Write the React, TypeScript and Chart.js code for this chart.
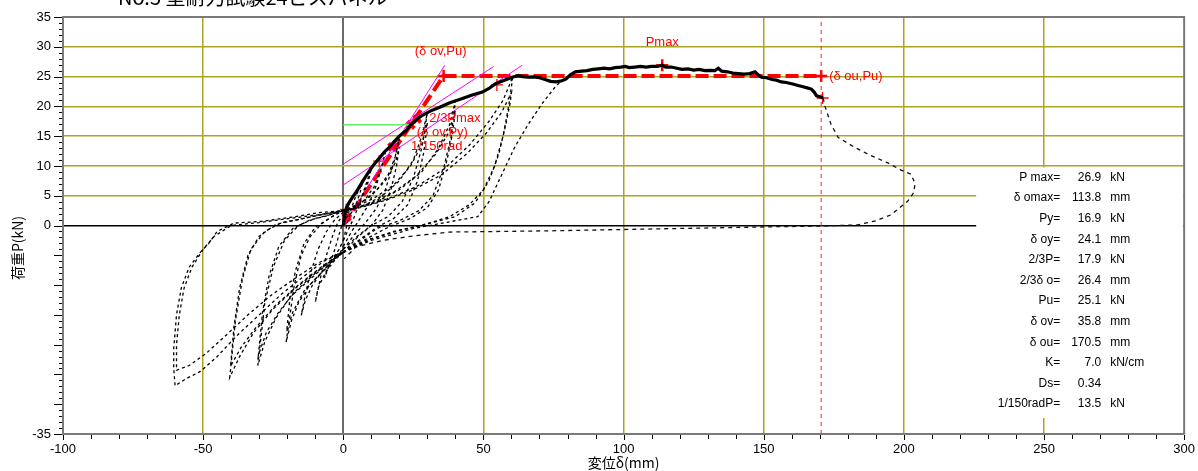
import React, { useEffect, useRef } from "react";
import { Chart, registerables } from "chart.js";
Chart.register(...registerables);

type Pt = [number, number];

// ---- axis tick labels ----
const xTickLabels = [-100, -50, 0, 50, 100, 150, 200, 250, 300];
const yTickLabels = [35, 30, 25, 20, 15, 10, 5, 0, -35];
const xGridValues = [-50, 50, 100, 150, 200, 250];
const yGridValues = [5, 10, 15, 20, 25, 30];

// ---- hysteresis cycles (dashed) ----
const cycle7: Pt[] = [
  [0, -2.5], [1.5, 0.5], [3, 3], [4.5, 5], [6.7, 7.0],
  [6, 5.5], [4.5, 3.5], [3, 2.2], [1.5, 1.5], [0, 0.8],
  [-1.5, -1.5], [-3, -4], [-4.5, -6], [-6.7, -8.8],
  [-6, -7.5], [-4.5, -6], [-3, -5], [-1.5, -4], [0, -2.5],
];
const cycle10: Pt[] = [
  [0, -2.5], [2, -0.5], [4, 1.5], [6, 4], [8, 6.8], [10, 9.5],
  [9, 7.5], [7, 5], [5, 3.5], [3, 2.6], [1, 2], [0, 1.8],
  [-2, 0.5], [-4, -2], [-6, -5], [-8, -8.5], [-10, -12.9],
  [-9, -10.5], [-7, -8.5], [-5, -7], [-3, -5.8], [-1, -4.5], [0, -3.5],
];
const cycle15: Pt[] = [
  [0, -3.5], [3, -1], [6, 1.2], [9, 3.5], [12, 7], [15, 12.2],
  [13.5, 9.5], [11, 6.5], [8, 4.5], [5, 3.2], [2, 2.5], [0, 2.2],
  [-3, 1], [-6, -1], [-9, -4], [-12, -8.5], [-13.5, -11.5], [-15, -15.1],
  [-13.5, -12.5], [-11, -10], [-8, -8], [-5, -6.5], [-2, -5], [0, -4],
];
const cycle20: Pt[] = [
  [0, -4], [4, -1.5], [8, 0.5], [12, 3], [15, 6], [18, 10.5], [20, 14.6],
  [18.5, 11.5], [16, 8.5], [12, 6], [8, 4.3], [4, 3.2], [0, 2.5],
  [-4, 1.5], [-8, 0.2], [-12, -2], [-15, -5], [-17.5, -10], [-20.4, -19.6],
  [-18.5, -16], [-16, -13], [-12, -10], [-8, -8], [-4, -6], [0, -4.5],
];
const cycle20b: Pt[] = [
  [0, -4], [5, -1.8], [10, 0], [14, 2.5], [17, 6], [19, 10], [20, 13.2],
  [18.5, 10.5], [15, 7.5], [10, 5], [5, 3.5], [0, 2.6],
  [-5, 1.2], [-10, -0.3], [-14, -3], [-17, -7.5], [-19, -12], [-20.2, -17.8],
  [-18, -14.5], [-14, -11], [-9, -8.5], [-4, -6.2], [0, -4.5],
];
const cycle30: Pt[] = [
  [0, -4.5], [5, -2], [10, 0], [16, 1.5], [21, 4], [25, 8], [28, 13], [30, 18.9],
  [28, 15], [25, 11], [20, 7.5], [14, 5], [8, 3.5], [3, 2.8], [0, 2.5],
  [-5, 1.8], [-10, 1.2], [-16, 0], [-21, -2.5], [-25, -7], [-28, -13], [-30.5, -23.5],
  [-28, -19.5], [-24, -15.5], [-19, -12], [-13, -9.5], [-7, -7], [-2, -5], [0, -4.5],
];
const cycle30b: Pt[] = [
  [0, -4.5], [6, -2.3], [12, -0.3], [18, 1.2], [23, 3.5], [26.5, 7.5], [28.8, 12.5], [30, 17.3],
  [28, 13.5], [24, 10], [18, 6.8], [11, 4.6], [5, 3.3], [0, 2.6],
  [-6, 1.6], [-12, 0.9], [-18, -0.5], [-23, -3.5], [-26.5, -8.5], [-28.8, -14.5], [-30.3, -21.8],
  [-27.5, -18], [-23, -14.5], [-17, -11], [-10, -8], [-4, -5.8], [0, -4.5],
];
const cycle40: Pt[] = [
  [0, -4.5], [6, -2.5], [12, -0.5], [20, 0.8], [27, 2.5], [32, 5], [36, 10], [38.5, 15], [40, 20.9],
  [38, 17], [34, 13], [28, 9], [20, 6], [12, 4], [5, 3], [0, 2.5],
  [-6, 2], [-14, 1.2], [-22, 0.5], [-28, -1], [-33, -4], [-36, -9], [-38.5, -16], [-40.5, -25.5],
  [-37, -22], [-32, -18], [-25, -14], [-17, -10.5], [-9, -7.5], [-3, -5.5], [0, -4.5],
];
const cycle40b: Pt[] = [
  [0, -4.5], [8, -2.3], [16, -0.3], [24, 1.2], [30, 3], [34, 6], [37, 11], [39, 15.5], [40, 19.3],
  [37.5, 15.5], [33, 12], [26, 8.3], [18, 5.6], [10, 3.8], [3, 2.8], [0, 2.5],
  [-8, 1.8], [-16, 1], [-24, 0.2], [-30, -1.8], [-34, -5], [-37, -10.5], [-39, -17], [-40.2, -23.6],
  [-36.5, -20.5], [-31, -17], [-24, -13.3], [-16, -10], [-8, -7], [-2, -5], [0, -4.5],
];
const cycle60: Pt[] = [
  [0, -4.5], [8, -2.5], [18, -1], [28, 0], [38, 1.5], [45, 3.5], [50, 6], [54, 10], [57, 15], [59, 20], [60.5, 25],
  [57, 21], [52, 17.5], [45, 13.5], [36, 9.5], [26, 6.5], [16, 4.5], [7, 3.2], [0, 2.5],
  [-8, 2.2], [-17, 1.5], [-29, 0.7], [-39, 0.4], [-45, -1], [-48, -3], [-51, -4.5], [-55, -7],
  [-57.8, -10.5], [-59.5, -15], [-60.5, -20.7], [-60.5, -24], [-60, -26.9],
  [-56, -25.7], [-51, -24.5], [-45, -22], [-38, -18.5], [-30, -15], [-22, -11.5], [-14, -8.5], [-7, -6], [0, -4.5],
];
const cycle60b: Pt[] = [
  [0, -4.5], [10, -2.3], [20, -0.8], [30, 0.3], [40, 1.5], [47, 3.8], [52, 7.5], [55.5, 12], [58, 17], [59.5, 20.5], [60, 22.3],
  [56.5, 19], [51, 15.5], [44, 12], [35, 8.5], [25, 6], [15, 4.2], [6, 3], [0, 2.4],
  [-9, 1.8], [-19, 1.2], [-30, 0.5], [-40, 0], [-46, -1.8], [-50, -4], [-54, -7], [-56.8, -10.5],
  [-58.5, -15], [-59.5, -20], [-59.5, -24.3],
  [-55, -23.5], [-49, -21.5], [-42, -18.5], [-34, -15], [-26, -11.8], [-17, -8.8], [-9, -6.3], [-2, -4.8], [0, -4.5],
];
const finalPush: Pt[] = [
  [0, -4.5], [10, -2.5], [25, -0.5], [40, 0.8], [48, 1.5], [52, 4], [56, 8], [61, 13],
  [66, 17], [71, 20.5], [76, 23.5], [80, 25],
];
const postFailure: Pt[] = [
  [171.2, 21.4], [171.8, 20.1], [174, 17], [176.5, 14.8], [182.5, 13.1], [188, 11.8], [194.3, 10.5],
  [199, 9.3], [202.6, 8.6], [204, 7], [203.5, 5.5], [201.4, 4.1], [198, 2.8], [195.5, 1.8], [190, 0.8],
  [183.6, 0.1], [170, -0.1], [155, -0.2], [120, -0.5], [73, -0.9], [38, -1.1], [26, -1.7], [14, -2.5],
  [4.5, -3.6], [0.3, -5.6],
];

// ---- envelope (solid) ----
const envelope: Pt[] = [
  [0, 0], [0.5, 1.6], [1, 2.8], [2, 3.8], [3.5, 4.9], [5, 5.9], [7, 7.5], [9.2, 9.1], [11, 10.3],
  [13, 11.4], [14.8, 12.4], [16.4, 13.1], [18, 14.0], [20, 15.0], [22.3, 15.9], [24.1, 16.9],
  [26.4, 17.9], [28.2, 18.5], [31, 19.2], [34.2, 19.8], [38, 20.6], [42.5, 21.3], [46, 21.9],
  [49.6, 22.4], [52, 23.0], [54.3, 23.8], [57, 24.3], [60.3, 24.9], [62.5, 25.2], [64, 25.0],
  [66, 24.9], [68, 24.95], [70, 24.8], [72, 24.5], [74, 24.2], [76, 24.1], [78, 24.3], [79.5, 24.6],
  [81, 25.3], [82.8, 25.8], [85, 25.9], [87, 26.0], [89, 26.2], [91, 26.3], [93, 26.4], [95, 26.3],
  [97, 26.5], [99, 26.6], [100.6, 26.7], [102, 26.5], [104, 26.6], [106, 26.7], [108, 26.6],
  [110, 26.7], [112, 26.7], [113.8, 26.9], [115, 26.6], [117, 26.6], [119, 26.4], [120.8, 26.2],
  [123, 26.3], [125, 26.1], [127, 26.2], [129, 26.0], [131, 26.05], [132.6, 26.0], [133.8, 26.4],
  [135, 25.9], [137, 25.8], [139, 25.6], [140.9, 25.5], [143, 25.4], [145, 25.5], [146.9, 25.8],
  [148, 25.3], [149.2, 24.9], [151, 24.8], [153, 24.5], [154.5, 24.4], [156.3, 24.1], [158, 24.0],
  [160, 23.8], [162.3, 23.5], [164, 23.3], [165.5, 23.1], [167, 22.9], [168, 22.4], [168.8, 21.8],
  [170, 21.6], [171.2, 21.4],
];

// ---- evaluation lines ----
const bilinear: Pt[] = [[0, 0], [35.8, 25.1], [170.5, 25.1]];
const tangent1: Pt[] = [[0, 10.3], [53.7, 26.7]];
const tangent2: Pt[] = [[0, 6.8], [63.8, 26.9]];
const tangent3: Pt[] = [[0, 0], [36.2, 26.9]];
const pyLine: Pt[] = [[0, 16.9], [24.5, 16.9]];
const ouLine: Pt[] = [[170.5, -35], [170.5, 35]];
const thinMarks: Pt[] = [[1, 2.7], [12.8, 10.8], [54.8, 23.6], [171, 21.4]];
const boldMarks: Pt[] = [[35.8, 25.1], [113.8, 26.9], [170.5, 25.1]];
const heavyMarks: Pt[] = [[1.3, 1.4], [17.4, 13.2], [24.1, 16.9], [26.4, 17.9]];

// ---- annotation texts ----
const noteTexts = ["(δ ov,Pu)", "Pmax", "(δ ou,Pu)", "2/3Pmax", "(δ ov,Py)", "1/150rad"];
const noteAnchors: Pt[] = [[35.8, 25.1], [113.8, 26.9], [170.5, 25.1], [26.4, 17.9], [24.1, 16.9], [17.4, 13.2]];

// ---- result table ----
const statLabels = ["P max=", "δ omax=", "Py=", "δ oy=", "2/3P=", "2/3δ o=", "Pu=", "δ ov=", "δ ou=", "K=", "Ds=", "1/150radP="];
const statValues = ["26.9", "113.8", "16.9", "24.1", "17.9", "26.4", "25.1", "35.8", "170.5", "7.0", "0.34", "13.5"];
const statUnits = ["kN", "mm", "kN", "mm", "kN", "mm", "kN", "mm", "mm", "kN/cm", "", "kN"];

const titleText = "No.5 壁耐力試験24ビスパネル";
const xTitle = "変位δ(mm)";
const yTitle = "荷重P(kN)";

const OLIVE = "#aba523";
const SANS = "'Liberation Sans', Arial, sans-serif";
const CJK = "'Noto Sans CJK JP', 'Liberation Sans', sans-serif";

const toXY = (pts: Pt[]) => pts.map(([x, y]) => ({ x, y }));

export default function App() {
  const ref = useRef<HTMLCanvasElement>(null);

  useEffect(() => {
    const canvas = ref.current;
    if (!canvas) return;

    const line = (pts: Pt[], extra: any) => ({
      data: toXY(pts),
      showLine: true,
      pointRadius: 0,
      fill: false,
      tension: 0,
      borderColor: "#000",
      borderWidth: 1,
      ...extra,
    });
    const loopStyle = { borderColor: "#000", borderWidth: 1.3, borderDash: [3, 3] };
    const loops = [cycle7, cycle10, cycle15, cycle20, cycle20b, cycle30, cycle30b, cycle40, cycle40b, cycle60, cycle60b];

    const decor = {
      id: "decor",
      beforeDatasetsDraw(chart: any) {
        const { ctx, chartArea, scales } = chart;
        const ys = scales.y;
        const left = chartArea.right - 208;
        const top = ys.getPixelForValue(10) + 1.5;
        const bottom = chartArea.bottom - 16;
        ctx.save();
        ctx.fillStyle = "#fff";
        ctx.fillRect(left, top, chartArea.right - left - 1, bottom - top);
        ctx.fillStyle = "#000";
        ctx.font = `12px ${SANS}`;
        ctx.textBaseline = "middle";
        statLabels.forEach((lab, i) => {
          const yy = top + 10 + i * 20.6;
          ctx.textAlign = "right";
          ctx.fillText(lab, left + 84, yy);
          ctx.fillText(statValues[i], left + 125, yy);
          ctx.textAlign = "left";
          ctx.fillText(statUnits[i], left + 134, yy);
        });
        ctx.restore();
      },
      afterDatasetsDraw(chart: any) {
        const { ctx, scales } = chart;
        const xs = scales.x;
        const ys = scales.y;
        const offs: [number, number, CanvasTextAlign][] = [
          [-3, -25, "center"],
          [0, -23, "center"],
          [8, 0, "left"],
          [12, 0, "left"],
          [6, 8, "left"],
          [19, 0, "left"],
        ];
        ctx.save();
        ctx.fillStyle = "#ff0000";
        ctx.font = `13px ${SANS}`;
        ctx.textBaseline = "middle";
        noteTexts.forEach((t, i) => {
          const [dx, dy, al] = offs[i];
          ctx.textAlign = al;
          ctx.fillText(t, xs.getPixelForValue(noteAnchors[i][0]) + dx, ys.getPixelForValue(noteAnchors[i][1]) + dy);
        });
        ctx.restore();
      },
      afterDraw(chart: any) {
        const { ctx, chartArea, scales } = chart;
        const xs = scales.x;
        const ys = scales.y;
        ctx.save();
        // frame
        ctx.strokeStyle = "#7a7a7a";
        ctx.lineWidth = 2;
        ctx.beginPath();
        ctx.moveTo(chartArea.left, chartArea.top);
        ctx.lineTo(chartArea.right, chartArea.top);
        ctx.lineTo(chartArea.right, chartArea.bottom);
        ctx.stroke();
        // tick marks
        ctx.strokeStyle = "#000";
        ctx.lineWidth = 1;
        ctx.beginPath();
        for (let v = -100; v <= 300; v += 10) {
          const px = Math.round(xs.getPixelForValue(v)) + 0.5;
          ctx.moveTo(px, chartArea.bottom + 1);
          ctx.lineTo(px, chartArea.bottom + (v % 50 === 0 ? 6 : 5));
        }
        for (let v = -35; v <= 35; v += 1) {
          const py = Math.round(ys.getPixelForValue(v)) + 0.5;
          ctx.moveTo(chartArea.left - 1, py);
          ctx.lineTo(chartArea.left - (v % 5 === 0 ? 9 : 4), py);
        }
        ctx.stroke();
        // axis titles
        ctx.fillStyle = "#000";
        ctx.font = `14px ${CJK}`;
        ctx.textAlign = "center";
        ctx.textBaseline = "middle";
        ctx.fillText(xTitle, (chartArea.left + chartArea.right) / 2, 463);
        ctx.save();
        ctx.translate(18, 248);
        ctx.rotate(-Math.PI / 2);
        ctx.fillText(yTitle, 0, 0);
        ctx.restore();
        // chart title (cropped at top)
        ctx.font = `20px ${CJK}`;
        ctx.textAlign = "left";
        ctx.textBaseline = "alphabetic";
        ctx.fillText(titleText, 118, 5);
        ctx.restore();
      },
    };

    const chart = new Chart(canvas, {
      type: "scatter",
      data: {
        datasets: [
          ...loops.map((l) => line(l, loopStyle)),
          line(finalPush, loopStyle),
          line(postFailure, { borderColor: "#111", borderWidth: 1.3, borderDash: [4, 4] }),
          line(envelope, { borderColor: "#000", borderWidth: 3.2 }),
          line(pyLine, { borderColor: "#66ee66", borderWidth: 1.5 }),
          line(tangent1, { borderColor: "#ff00ff", borderWidth: 1 }),
          line(tangent2, { borderColor: "#ff00ff", borderWidth: 1 }),
          line(tangent3, { borderColor: "#ff00ff", borderWidth: 1 }),
          line(ouLine, { borderColor: "#ff2020", borderWidth: 1, borderDash: [4, 4] }),
          line(bilinear, { borderColor: "#ff0000", borderWidth: 4, borderDash: [13, 5] }),
          {
            data: toXY(thinMarks), showLine: false, pointStyle: "cross", pointRadius: 6,
            pointBorderColor: "#ff0000", pointBorderWidth: 1.3, borderColor: "#ff0000",
          },
          {
            data: toXY(boldMarks), showLine: false, pointStyle: "cross", pointRadius: 6,
            pointBorderColor: "#ff0000", pointBorderWidth: 2.5, borderColor: "#ff0000",
          },
          {
            data: toXY(heavyMarks), showLine: false, pointStyle: "crossRot", pointRadius: 5,
            pointBorderColor: "#ff0000", pointBorderWidth: 4, borderColor: "#ff0000",
          },
        ] as any,
      },
      options: {
        animation: false,
        responsive: false,
        devicePixelRatio: 1,
        events: [],
        layout: { padding: { top: 17, right: 12, left: 0, bottom: 0 } },
        plugins: { legend: { display: false }, tooltip: { enabled: false }, title: { display: false } },
        scales: {
          x: {
            type: "linear",
            min: -100,
            max: 300,
            afterFit: (s: any) => { s.height = 37; },
            ticks: {
              stepSize: 10,
              autoSkip: false,
              maxRotation: 0,
              minRotation: 0,
              padding: 3,
              color: "#000",
              font: { family: SANS, size: 13 },
              callback: (v: any) => (xTickLabels.includes(Number(v)) ? String(v) : ""),
            },
            grid: {
              color: (c: any) => {
                const v = c.tick ? c.tick.value : NaN;
                if (v === 0) return "#6a6a6a";
                return xGridValues.includes(v) ? OLIVE : "rgba(0,0,0,0)";
              },
              lineWidth: (c: any) => (c.tick && c.tick.value === 0 ? 2 : 1.5),
              drawTicks: true,
              tickLength: 5,
              tickColor: "rgba(0,0,0,0)",
            },
            border: { display: true, color: "#7a7a7a", width: 2 },
          },
          y: {
            type: "linear",
            min: -35,
            max: 35,
            afterFit: (s: any) => { s.width = 63; },
            ticks: {
              stepSize: 1,
              autoSkip: false,
              padding: 3,
              color: "#000",
              font: { family: SANS, size: 13 },
              callback: (v: any) => (yTickLabels.includes(Number(v)) ? String(v) : ""),
            },
            grid: {
              color: (c: any) => {
                const v = c.tick ? c.tick.value : NaN;
                if (v === 0) return "#000";
                return yGridValues.includes(v) ? OLIVE : "rgba(0,0,0,0)";
              },
              lineWidth: 1.5,
              drawTicks: true,
              tickLength: 9,
              tickColor: "rgba(0,0,0,0)",
            },
            border: { display: true, color: "#7a7a7a", width: 2 },
          },
        },
      } as any,
      plugins: [decor],
    });

    return () => chart.destroy();
  }, []);

  return (
    <div style={{ position: "absolute", left: 0, top: 0, width: 1198, height: 471, background: "#fff" }}>
      <canvas ref={ref} width={1198} height={471} style={{ display: "block", width: 1198, height: 471 }} />
    </div>
  );
}
